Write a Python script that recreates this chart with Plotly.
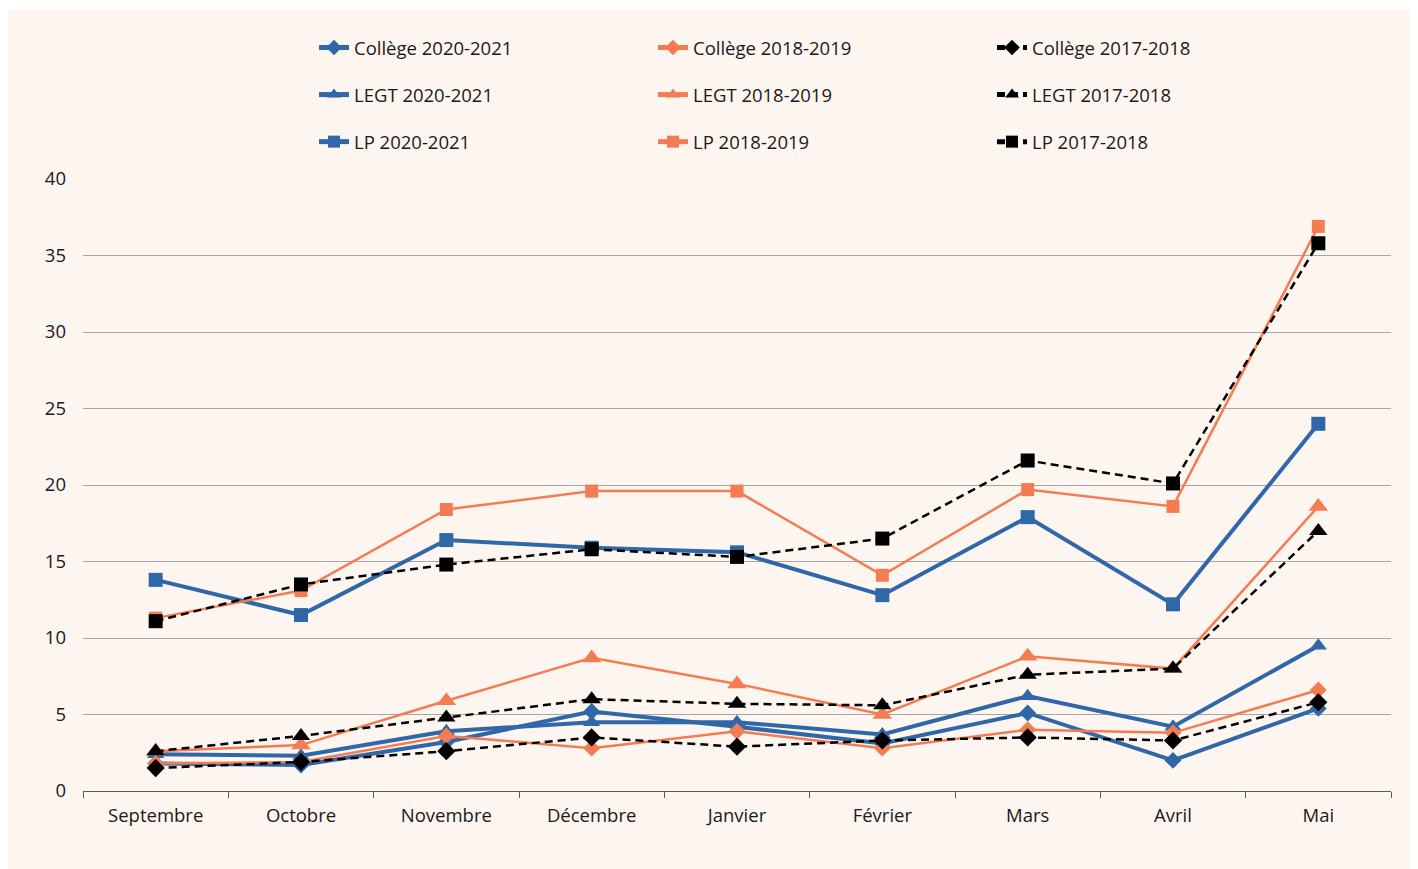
import plotly.graph_objects as go

months = ["Septembre", "Octobre", "Novembre", "Décembre", "Janvier", "Février", "Mars", "Avril", "Mai"]

college_2021 = [1.8, 1.7, 3.2, 5.2, 4.2, 3.1, 5.1, 2.0, 5.4]
college_2019 = [1.8, 1.9, 3.6, 2.8, 3.9, 2.8, 4.0, 3.8, 6.6]
college_2018 = [1.5, 1.9, 2.6, 3.5, 2.9, 3.3, 3.5, 3.3, 5.8]
legt_2021 = [2.4, 2.3, 3.9, 4.5, 4.5, 3.7, 6.2, 4.2, 9.5]
legt_2019 = [2.6, 3.0, 5.9, 8.7, 7.0, 5.0, 8.8, 8.0, 18.6]
legt_2018 = [2.6, 3.6, 4.8, 6.0, 5.7, 5.6, 7.6, 8.0, 17.0]
lp_2021 = [13.8, 11.5, 16.4, 15.9, 15.6, 12.8, 17.9, 12.2, 24.0]
lp_2019 = [11.3, 13.1, 18.4, 19.6, 19.6, 14.1, 19.7, 18.6, 36.9]
lp_2018 = [11.1, 13.5, 14.8, 15.8, 15.3, 16.5, 21.6, 20.1, 35.8]

BLUE = "#3067A8"
ORANGE = "#F47C53"
BLACK = "#000000"
BG = "#FDF5EF"
FONT = "Open Sans"
FS = 18.5

series = [
    ("Collège 2020-2021", college_2021, BLUE, 4, "solid", "diamond", 13, "legend"),
    ("LEGT 2020-2021", legt_2021, BLUE, 4, "solid", "triangle-up", 15, "legend"),
    ("LP 2020-2021", lp_2021, BLUE, 4, "solid", "square", 14, "legend"),
    ("Collège 2018-2019", college_2019, ORANGE, 2.5, "solid", "diamond", 13, "legend2"),
    ("LEGT 2018-2019", legt_2019, ORANGE, 2.5, "solid", "triangle-up", 17, "legend2"),
    ("LP 2018-2019", lp_2019, ORANGE, 2.5, "solid", "square", 13, "legend2"),
    ("Collège 2017-2018", college_2018, BLACK, 2.5, "dash", "diamond", 14, "legend3"),
    ("LEGT 2017-2018", legt_2018, BLACK, 2.5, "dash", "triangle-up", 16, "legend3"),
    ("LP 2017-2018", lp_2018, BLACK, 2.5, "dash", "square", 14, "legend3"),
]

fig = go.Figure()
for name, vals, col, w, dash, sym, size, leg in series:
    fig.add_trace(go.Scatter(
        x=months, y=vals, name=name, mode="lines+markers",
        line=dict(color=col, width=w, dash="8px,5px" if dash == "dash" else "solid"),
        marker=dict(symbol=sym, size=size, color=col, line=dict(width=0)),
        legend=leg, legendgroup=name,
    ))

# page is drawn with an 8px offset; work in figure pixels
L, R, T, B = 75, 1383, 171, 783  # plot area in figure px

def px_x(px):
    return (px - L) / (R - L)

def px_y(py):
    return (B - py) / (B - T)

leg_common = dict(
    orientation="v", yanchor="top", xanchor="left",
    bgcolor="rgba(0,0,0,0)", font=dict(family=FONT, size=FS, color="#1a1a1a"),
    tracegroupgap=20, itemwidth=30, itemsizing="constant",
)

fig.update_layout(
    width=1418, height=869,
    margin=dict(l=L, r=1418 - R, t=T, b=869 - B),
    paper_bgcolor="white",
    plot_bgcolor="rgba(0,0,0,0)",
    font=dict(family=FONT, size=FS, color="#1a1a1a"),
    legend=dict(x=px_x(306), y=px_y(21), **leg_common),
    legend2=dict(x=px_x(645), y=px_y(21), **leg_common),
    legend3=dict(x=px_x(984), y=px_y(21), **leg_common),
    shapes=[dict(type="rect", xref="paper", yref="paper", layer="below",
                 x0=px_x(0), x1=px_x(1407), y0=px_y(862), y1=px_y(2),
                 fillcolor=BG, line=dict(width=0))],
    xaxis=dict(
        showgrid=False, showline=True, linecolor="#595959", linewidth=1.3,
        ticks="outside", tickson="boundaries", ticklen=6, tickcolor="#595959",
        tickfont=dict(family=FONT, size=FS, color="#1a1a1a"),
        range=[-0.5, 8.5], ticklabelstandoff=8,
    ),
    yaxis=dict(
        range=[0, 40], dtick=5, showgrid=True, gridcolor="#A6A6A6", gridwidth=1.3,
        zeroline=False, showline=False, ticks="",
        tickfont=dict(family=FONT, size=FS, color="#1a1a1a"),
        ticklabelstandoff=16,
    ),
)

fig.write_html("out.html")
